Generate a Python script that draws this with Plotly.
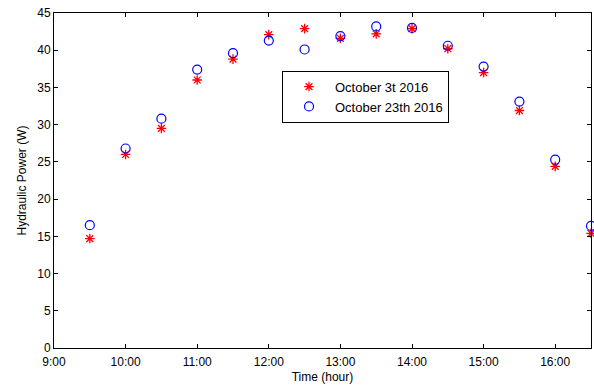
import plotly.graph_objects as go

hours = [9.5, 10.0, 10.5, 11.0, 11.5, 12.0, 12.5, 13.0, 13.5, 14.0, 14.5, 15.0, 15.5, 16.0, 16.5]
oct3 = [14.7, 26.0, 29.5, 36.0, 38.8, 42.1, 42.9, 41.6, 42.2, 42.9, 40.2, 37.0, 31.9, 24.4, 15.4]
oct23 = [16.5, 26.8, 30.8, 37.4, 39.6, 41.3, 40.1, 41.9, 43.2, 43.0, 40.6, 37.8, 33.1, 25.3, 16.4]
tick_vals = [9, 10, 11, 12, 13, 14, 15, 16]
tick_text = ["9:00", "10:00", "11:00", "12:00", "13:00", "14:00", "15:00", "16:00"]

FONT = "Liberation Sans, Arial"

fig = go.Figure()
fig.add_trace(go.Scatter(x=hours, y=oct3, mode="markers", name="October 3t 2016",
                         marker=dict(symbol="asterisk-open", size=8, color="red",
                                     line=dict(color="red", width=1.3)), cliponaxis=False))
fig.add_trace(go.Scatter(x=hours, y=oct23, mode="markers", name="October 23th 2016",
                         marker=dict(symbol="circle-open", size=9, color="blue",
                                     line=dict(color="blue", width=1.2)), cliponaxis=False))

axis_common = dict(showgrid=False, zeroline=False, showline=True, linecolor="black",
                   linewidth=1, mirror="ticks", ticks="inside", ticklen=4,
                   tickcolor="black", tickfont=dict(family=FONT, size=12, color="black"))

fig.update_xaxes(range=[9, 16.5], tickvals=tick_vals, ticktext=tick_text, ticklabelstandoff=3,
                 title=dict(text="Time (hour)", font=dict(family=FONT, size=12, color="black"), standoff=4),
                 **axis_common)
fig.update_yaxes(range=[0, 45], dtick=5,
                 title=dict(text="Hydraulic Power (W)", font=dict(family=FONT, size=12, color="black"), standoff=8),
                 **axis_common)

fig.update_layout(
    width=594, height=385,
    margin=dict(l=54, r=3, t=13, b=37),
    paper_bgcolor="white", plot_bgcolor="white",
    font=dict(family=FONT, size=12, color="black"),
    legend=dict(x=0.4246, y=0.828, xanchor="left", yanchor="top",
                bordercolor="black", borderwidth=1, bgcolor="white",
                font=dict(family=FONT, size=13), itemwidth=42, tracegroupgap=0),
)

fig.write_html("out.html")
